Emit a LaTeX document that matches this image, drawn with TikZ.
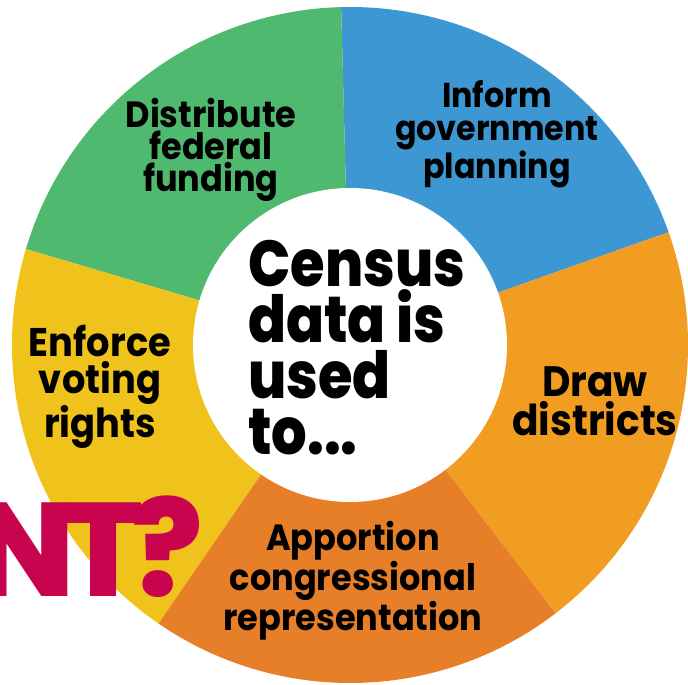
\documentclass[tikz,border=0pt]{standalone}
\usepackage{fontspec}
\setmainfont{Poppins}
\newfontfamily\segfont{Poppins}[FakeStretch=0.92]
\newfontfamily\hubfont{Poppins ExtraBold}[FakeStretch=0.86]
\newfontfamily\bigfont{Poppins ExtraBold}[LetterSpace=-9]

\definecolor{vert}{HTML}{4FB970}
\definecolor{bleu}{HTML}{3C97D3}
\definecolor{jaune}{HTML}{F0C21C}
\definecolor{orangeclair}{HTML}{F09D22}
\definecolor{orangefonce}{HTML}{E67F27}
\definecolor{rose}{HTML}{C8044F}

\tikzset{
  part/.style 2 args={font=\segfont\bfseries\fontsize{#1}{#2}\selectfont, align=center, inner sep=0pt},
}

\begin{document}
\begin{tikzpicture}[x=1pt,y=1pt]
  \useasboundingbox (0,0) rectangle (688,685);
  \clip (0,0) rectangle (688,685);
  \coordinate (O) at (350,340);

  % les cinq secteurs
  \foreach \a/\c in {19.5/bleu,91.5/vert,163.5/jaune,235.5/orangefonce,307.5/orangeclair}
    \fill[\c] (O) -- ++(\a:338pt) arc[start angle=\a, end angle=\a+72, radius=338pt] -- cycle;

  \node[circle, fill=white, minimum size=314pt, inner sep=0pt] (hub) at (O) {};
  \node[font=\hubfont\fontsize{65}{56}\selectfont, align=left, inner sep=0pt, anchor=west] (titre) at (248,337) {Census\\data is\\used\\to...};

  \node[part={36.5}{32}] (fonds) at (211,535) {Distribute\\federal\\funding};
  \node[part={34.5}{33}] (plan) at (497,551) {Inform\\government\\planning};
  \node[part={42.5}{39}] (circ) at (595,284) {Draw\\districts};
  \node[part={36.5}{33}] (repart) at (353,104) {Apportion\\congressional\\representation};
  \node[part={40}{37}] (vote) at (100,298) {Enforce\\voting\\rights};

  % texte coupe au bord
  \node[font=\bigfont\fontsize{133}{133}\selectfont, text=rose, anchor=base east, inner sep=0pt] (question) at (203,88) {ANT?};
\end{tikzpicture}
\end{document}
